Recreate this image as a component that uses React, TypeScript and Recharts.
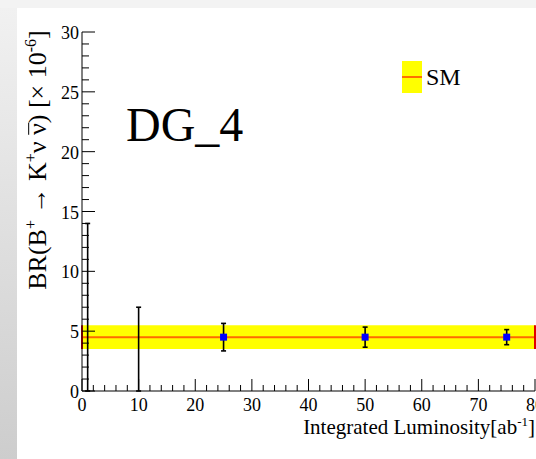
import React from "react";
import {
  ComposedChart,
  Area,
  Line,
  Scatter,
  ErrorBar,
  XAxis,
  YAxis,
  ReferenceLine,
} from "recharts";

// luminosity points (ab^-1) and the fitted BR (x 10^-6)
const lumi = [1, 10, 25, 50, 75];
const brValue = [0, 0, 4.5, 4.5, 4.5];
const brError = [14, 7, 1.15, 0.84, 0.63];

// SM prediction band
const smValue = 4.5;
const smLow = 3.5;
const smHigh = 5.5;
const lumiRange = [0, 80];
const brRange = [0, 30];

const xMajor = [0, 10, 20, 30, 40, 50, 60, 70, 80];
const yMajor = [0, 5, 10, 15, 20, 25, 30];
const xTicks = Array.from({ length: 41 }, (_, i) => i * 2);
const yTicks = Array.from({ length: 31 }, (_, i) => i);

// error bars are cut at the bottom of the frame, like the original plot
const points = lumi.map((l, i) => ({
  lumi: l,
  br: brValue[i],
  err: [Math.min(brError[i], brValue[i] - brRange[0]), brError[i]],
}));
const band = lumiRange.map((l) => ({ lumi: l, band: [smLow, smHigh], sm: smValue }));

const FONT = "'Liberation Serif', 'Times New Roman', serif";

const BottomTick = (p: any) => {
  const { x, y, payload } = p;
  const major = xMajor.includes(payload.value);
  return (
    <g>
      <line x1={x} x2={x} y1={y} y2={y - (major ? 12 : 6)} stroke="#000" />
      {major && (
        <text x={x} y={y + 20} textAnchor="middle" fontSize={18} fontFamily={FONT} fill="#000">
          {payload.value}
        </text>
      )}
    </g>
  );
};

const TopTick = (p: any) => {
  const { x, y, payload } = p;
  const major = xMajor.includes(payload.value);
  return <line x1={x} x2={x} y1={y} y2={y + (major ? 12 : 5)} stroke="#000" />;
};

const LeftTick = (p: any) => {
  const { x, y, payload } = p;
  const major = yMajor.includes(payload.value);
  return (
    <g>
      <line x1={x} x2={x + (major ? 13 : 7)} y1={y} y2={y} stroke="#000" />
      {major && (
        <text x={x - 3} y={y + 7} textAnchor="end" fontSize={18} fontFamily={FONT} fill="#000">
          {payload.value}
        </text>
      )}
    </g>
  );
};

const RightTick = (p: any) => {
  const { x, y, payload } = p;
  const major = yMajor.includes(payload.value);
  return <line x1={x} x2={x - (major ? 13 : 8)} y1={y} y2={y} stroke="#000" />;
};

const Marker = (p: any) => {
  if (!p.payload || p.payload.br <= 0) return <g />;
  return <rect x={p.cx - 3.5} y={p.cy - 3.5} width={7} height={7} fill="#0000ff" />;
};

const sup = { fontSize: 16 };

export default function App() {
  return (
    <div
      style={{
        position: "absolute",
        left: 0,
        top: 0,
        width: 536,
        height: 459,
        background: "#f3f3f3",
        overflow: "hidden",
      }}
    >
      <div
        style={{
          position: "absolute",
          left: 0,
          top: 8,
          width: 17,
          height: 451,
          background: "linear-gradient(#f1f1f1, #cdcdcd)",
        }}
      />
      <div style={{ position: "absolute", left: 17, top: 8, width: 519, height: 451, background: "#fff" }} />

      <div style={{ position: "absolute", left: 0, top: 0 }}>
        <ComposedChart
          width={536}
          height={459}
          data={band}
          margin={{ top: 32, right: 1, bottom: 38, left: 22 }}
        >
          <XAxis
            dataKey="lumi"
            type="number"
            domain={lumiRange}
            ticks={xTicks}
            interval={0}
            allowDataOverflow
            tickSize={0}
            tickMargin={0}
            tickLine={false}
            tick={BottomTick}
            height={30}
            axisLine={{ stroke: "#000" }}
          />
          <XAxis
            xAxisId="top"
            orientation="top"
            type="number"
            domain={lumiRange}
            ticks={xTicks}
            interval={0}
            allowDataOverflow
            tickSize={0}
            tickMargin={0}
            tickLine={false}
            tick={TopTick}
            height={0}
            axisLine={{ stroke: "#000" }}
          />
          <YAxis
            type="number"
            domain={brRange}
            ticks={yTicks}
            interval={0}
            allowDataOverflow
            tickSize={0}
            tickMargin={0}
            tickLine={false}
            tick={LeftTick}
            width={60}
            axisLine={{ stroke: "#000" }}
          />
          <YAxis
            yAxisId="right"
            orientation="right"
            type="number"
            domain={brRange}
            ticks={yTicks}
            interval={0}
            allowDataOverflow
            tickSize={0}
            tickMargin={0}
            tickLine={false}
            tick={RightTick}
            width={0}
            axisLine={{ stroke: "#000" }}
          />
          <Area
            type="linear"
            dataKey="band"
            fill="#ffff00"
            fillOpacity={1}
            stroke="none"
            isAnimationActive={false}
          />
          <Line
            type="linear"
            dataKey="sm"
            stroke="#ff6a00"
            strokeWidth={2}
            dot={false}
            isAnimationActive={false}
          />
          <ReferenceLine
            segment={[{ x: lumiRange[0], y: smLow }, { x: lumiRange[0], y: smHigh }]}
            stroke="#e00000"
            strokeWidth={2}
          />
          <ReferenceLine
            segment={[{ x: lumiRange[1], y: smLow }, { x: lumiRange[1], y: smHigh }]}
            stroke="#e00000"
            strokeWidth={2}
          />
          <Scatter data={points} dataKey="br" shape={Marker} isAnimationActive={false}>
            <ErrorBar dataKey="err" direction="y" width={2.5} stroke="#000" strokeWidth={1.6} />
          </Scatter>
        </ComposedChart>
      </div>

      <div
        style={{
          position: "absolute",
          left: 126,
          top: 101,
          fontFamily: FONT,
          fontSize: 48,
          lineHeight: 1,
          color: "#000",
        }}
      >
        DG_4
      </div>

      <div
        style={{
          position: "absolute",
          left: 402,
          top: 61,
          width: 20,
          height: 32,
          background: "#ffff00",
        }}
      >
        <div style={{ position: "absolute", left: 0, top: 15, width: 20, height: 2, background: "#ff7000" }} />
      </div>
      <div
        style={{
          position: "absolute",
          left: 426,
          top: 65,
          fontFamily: FONT,
          fontSize: 24,
          lineHeight: 1,
          color: "#000",
        }}
      >
        SM
      </div>

      <div
        style={{
          position: "absolute",
          left: 37,
          top: 160,
          transform: "translate(-50%, -50%) rotate(-90deg)",
          whiteSpace: "nowrap",
          fontFamily: FONT,
          fontSize: 26,
          lineHeight: 1,
          color: "#000",
        }}
      >
        BR(B<sup style={sup}>+</sup> → K<sup style={sup}>+</sup>ν{" "}
        <span style={{ display: "inline-block", borderTop: "1.5px solid #000", lineHeight: 0.725 }}>ν</span>) [×
        10<sup style={sup}>-6</sup>]
      </div>

      <div
        style={{
          position: "absolute",
          right: 1,
          top: 415,
          whiteSpace: "nowrap",
          fontFamily: FONT,
          fontSize: 21,
          lineHeight: 1,
          color: "#000",
        }}
      >
        Integrated Luminosity[ab<sup style={{ fontSize: 13 }}>-1</sup>]
      </div>
    </div>
  );
}
